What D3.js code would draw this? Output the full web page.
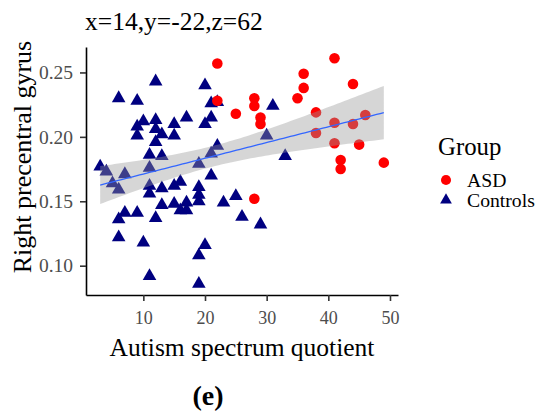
<!DOCTYPE html>
<html>
<head>
<meta charset="utf-8">
<script src="https://cdn.jsdelivr.net/npm/d3@7"></script>
<style>
  html, body { margin: 0; padding: 0; background: #fff; }
  svg { display: block; }
  svg text { font-family: "Liberation Serif", "Times New Roman", serif; }
</style>
</head>
<body>
<svg id="chart" width="539" height="412"></svg>
<script>
// Autism spectrum quotient (AQ) and right precentral gyrus values per participant
const asdAQ = [22, 41, 36, 36, 44, 35, 22, 25, 28, 28, 29, 29, 38, 38, 41, 41, 44, 46, 45, 42, 42, 49, 28];
const asdRPG = [0.257, 0.261, 0.249, 0.238, 0.241, 0.230, 0.228, 0.218, 0.230, 0.224, 0.215, 0.210,
                0.219, 0.203, 0.211, 0.195, 0.210, 0.217, 0.194, 0.182, 0.175, 0.180, 0.152];

const ctrlAQ = [12, 6, 9, 20, 21, 22, 21, 20, 17, 15, 15, 12, 10, 9, 9, 12, 13, 12, 22, 21,
                11, 13, 19, 11, 3, 4, 7, 5, 6, 21, 11, 11, 13, 15, 16, 19, 19, 19, 23, 13,
                15, 17, 16, 17, 7, 9, 6, 12, 6, 10, 20, 19, 11, 19, 31, 30, 33, 25, 26, 29];
const ctrlRPG = [0.243, 0.230, 0.228, 0.240, 0.226, 0.227, 0.215, 0.210, 0.215, 0.210,
                 0.201, 0.213, 0.212, 0.208, 0.201, 0.206, 0.202, 0.196, 0.193, 0.187,
                 0.186, 0.185, 0.179, 0.176, 0.177, 0.173, 0.171, 0.164, 0.159, 0.170,
                 0.162, 0.156, 0.160, 0.162, 0.165, 0.161, 0.155, 0.150, 0.149, 0.147,
                 0.148, 0.149, 0.143, 0.143, 0.141, 0.141, 0.136, 0.137, 0.122, 0.118,
                 0.116, 0.108, 0.092, 0.086, 0.224, 0.201, 0.185, 0.154, 0.138, 0.132];

const groups = ["ASD", "Controls"];
const groupColors = ["#FF0000", "#000080"];
const xTicks = [10, 20, 30, 40, 50];
const yTicks = [0.10, 0.15, 0.20, 0.25];
const chartTitle = "x=14,y=-22,z=62";
const xTitle = "Autism spectrum quotient";
const yTitle = "Right precentral gyrus";
const panelTag = "(e)";

const SERIF = "Liberation Serif, Times New Roman, serif";

// combined sample (controls drawn first, ASD on top)
const points = [
  ...ctrlAQ.map((v, i) => ({ aq: v, rpg: ctrlRPG[i], group: "Controls" })),
  ...asdAQ.map((v, i) => ({ aq: v, rpg: asdRPG[i], group: "ASD" }))
];

const svg = d3.select("#chart");
const panel = { left: 86, right: 398, top: 47, bottom: 295 };

// ggplot-style 5% expansion of the data range
function expanded(ext) {
  const pad = (ext[1] - ext[0]) * 0.05;
  return [ext[0] - pad, ext[1] + pad];
}
const x = d3.scaleLinear().domain(expanded(d3.extent(points, d => d.aq))).range([panel.left, panel.right]);
const y = d3.scaleLinear().domain(expanded(d3.extent(points, d => d.rpg))).range([panel.bottom, panel.top]);

const color = d3.scaleOrdinal().domain(groups).range(groupColors);
const shape = d3.scaleOrdinal().domain(groups).range([d3.symbolCircle, d3.symbolTriangle]);
const size = d3.scaleOrdinal().domain(groups).range([88, 80]);

// points
svg.append("g")
  .selectAll("path")
  .data(points)
  .join("path")
  .attr("transform", d => `translate(${x(d.aq)},${y(d.rpg)})`)
  .attr("d", d => d3.symbol().type(shape(d.group)).size(size(d.group))())
  .attr("fill", d => color(d.group));

// ordinary least squares fit with 95% confidence band
const n = points.length;
const mx = d3.mean(points, d => d.aq);
const my = d3.mean(points, d => d.rpg);
const sxx = d3.sum(points, d => (d.aq - mx) ** 2);
const sxy = d3.sum(points, d => (d.aq - mx) * (d.rpg - my));
const slope = sxy / sxx;
const intercept = my - slope * mx;
const rss = d3.sum(points, d => (d.rpg - (intercept + slope * d.aq)) ** 2);
const sigma = Math.sqrt(rss / (n - 2));
const tCrit = 1.9897; // t(0.975, df = 81)
const [xmin, xmax] = d3.extent(points, d => d.aq);
const fit = d3.range(80).map(i => {
  const xv = xmin + (xmax - xmin) * i / 79;
  const fv = intercept + slope * xv;
  const se = sigma * Math.sqrt(1 / n + (xv - mx) ** 2 / sxx);
  return { x: xv, fit: fv, lo: fv - tCrit * se, hi: fv + tCrit * se };
});

svg.append("path")
  .datum(fit)
  .attr("d", d3.area().x(d => x(d.x)).y0(d => y(d.lo)).y1(d => y(d.hi)))
  .attr("fill", "#999999")
  .attr("fill-opacity", 0.4);

svg.append("path")
  .datum(fit)
  .attr("d", d3.line().x(d => x(d.x)).y(d => y(d.fit)))
  .attr("fill", "none")
  .attr("stroke", "#3366FF")
  .attr("stroke-width", 1.3);

// axes
const xAxis = svg.append("g")
  .attr("transform", `translate(0,${panel.bottom})`)
  .call(d3.axisBottom(x).tickValues(xTicks).tickSize(6).tickPadding(10).tickSizeOuter(0));
const yAxis = svg.append("g")
  .attr("transform", `translate(${panel.left},0)`)
  .call(d3.axisLeft(y).tickValues(yTicks).tickFormat(d3.format(".2f")).tickSize(6).tickPadding(7).tickSizeOuter(0));

[xAxis, yAxis].forEach(g => {
  g.attr("font-family", SERIF);
  g.select(".domain").attr("stroke", "#000").attr("stroke-width", 1.6);
  g.selectAll(".tick line").attr("stroke", "#333").attr("stroke-width", 1.6);
  g.selectAll(".tick text").attr("fill", "#4D4D4D").style("font-family", SERIF);
});
xAxis.selectAll(".tick text").attr("font-size", 18);
yAxis.selectAll(".tick text").attr("font-size", 19.5);

// titles
svg.append("text")
  .attr("x", 85).attr("y", 30)
  .attr("font-size", 25.5)
  .attr("fill", "#000")
  .text(chartTitle);

svg.append("text")
  .attr("x", (panel.left + panel.right) / 2).attr("y", 356)
  .attr("text-anchor", "middle")
  .attr("font-size", 25.5)
  .attr("fill", "#000")
  .text(xTitle);

svg.append("text")
  .attr("transform", `translate(31,157) rotate(-90)`)
  .attr("text-anchor", "middle")
  .attr("font-size", 26)
  .attr("fill", "#000")
  .text(yTitle);

// legend
const legend = svg.append("g");
legend.append("text")
  .attr("x", 438).attr("y", 155)
  .attr("font-size", 24.8)
  .text("Group");
const keyY = [180, 200];
groups.forEach((g, i) => {
  legend.append("path")
    .attr("transform", `translate(446,${keyY[i]})`)
    .attr("d", d3.symbol().type(shape(g)).size(i === 0 ? 80 : 60)())
    .attr("fill", color(g));
  legend.append("text")
    .attr("x", 467).attr("y", keyY[i] + 7)
    .attr("font-size", 19.7)
    .text(g);
});

// panel tag
svg.append("text")
  .attr("x", 208).attr("y", 405)
  .attr("text-anchor", "middle")
  .attr("font-size", 28)
  .attr("font-weight", "bold")
  .text(panelTag);
</script>
</body>
</html>
